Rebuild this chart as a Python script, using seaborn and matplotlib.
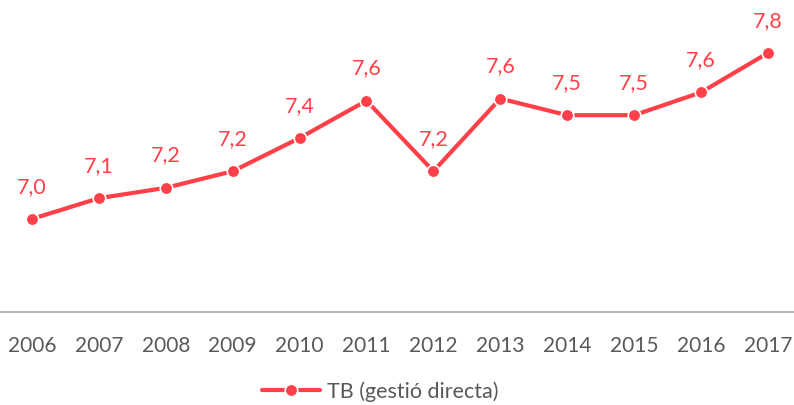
#!/usr/bin/env python3

import pandas as pd
import matplotlib.pyplot as plt
import seaborn as sns

SET_DPI = 100
FIGSIZE = (7.94, 4.06)

YEARS = ['2006', '2007', '2008', '2009', '2010', '2011',
         '2012', '2013', '2014', '2015', '2016', '2017']
VALUES = [7.00, 7.10, 7.15, 7.23, 7.39, 7.57,
          7.23, 7.58, 7.50, 7.50, 7.61, 7.80]
SERIES = 'TB (gestió directa)'

RED = '#ff4048'
GREY_TXT = '#595959'


def main():
    sns.set_style('white')
    plt.rcParams['font.family'] = ['Lato', 'DejaVu Sans']

    data = pd.DataFrame({'year': YEARS, 'value': VALUES})

    fig = plt.figure(figsize=FIGSIZE, dpi=SET_DPI)
    ax = fig.add_axes([0, 0.2298, 1, 0.7702])

    sns.lineplot(x='year', y='value', data=data, ax=ax, color=RED,
                 linewidth=3, marker='o', markersize=9,
                 markeredgecolor='white', markeredgewidth=1.2,
                 label=SERIES, legend=False)

    for i, v in enumerate(VALUES):
        ax.annotate(f'{v:.1f}'.replace('.', ','), (i, v),
                    xytext=(0, 24), textcoords='offset points',
                    ha='center', va='center', fontsize=15.5, color=RED)

    ax.set_xlim(-0.478, 11.39)
    ax.set_ylim(6.553, 8.06)
    ax.set_xlabel('')
    ax.set_ylabel('')
    ax.set_yticks([])
    ax.tick_params(axis='x', length=0, pad=17, labelsize=15,
                   labelcolor=GREY_TXT)
    for side in ['top', 'left', 'right']:
        ax.spines[side].set_visible(False)
    ax.spines['bottom'].set_color('#a6a6a6')
    ax.spines['bottom'].set_linewidth(1.2)

    handles, labels = ax.get_legend_handles_labels()
    fig.legend(handles, labels, loc='center',
               bbox_to_anchor=(380 / 794, 1 - 392 / 406),
               frameon=False, fontsize=15.5, handlelength=2.7,
               handletextpad=0.3, labelcolor=GREY_TXT)

    fig.savefig('out.png', dpi=SET_DPI)
    plt.close('all')


if __name__ == '__main__':
    main()
